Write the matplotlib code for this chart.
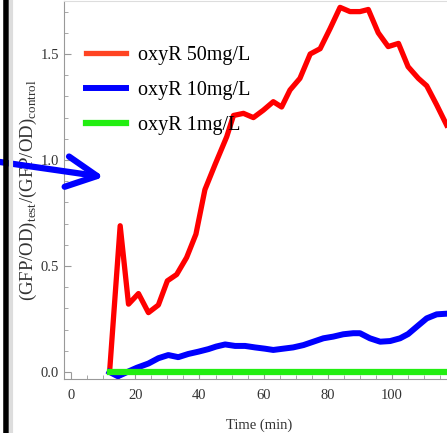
import matplotlib
matplotlib.use('Agg')
from matplotlib import pyplot as plt
from matplotlib.ticker import MultipleLocator
from matplotlib.patches import FancyArrowPatch

# 数据
t_50 = [12, 15.3, 17.9, 21, 24.1, 27.2, 30, 32.9, 36, 38.9, 41.7, 44.9, 48.5,
        50.6, 53.7, 56.8, 59.9, 63, 65.6, 68.2, 71.3, 74.5, 77.6, 80.7, 83.8,
        86.9, 90, 92.6, 95.7, 98.8, 102, 105, 108.2, 110.8, 113.9, 117]
oxyr_50 = [0.0, 0.69, 0.32, 0.37, 0.28, 0.316, 0.43, 0.46, 0.54, 0.65, 0.86, 0.98, 1.11,
           1.21, 1.22, 1.20, 1.235, 1.275, 1.25, 1.33, 1.385, 1.50, 1.525, 1.62, 1.72,
           1.70, 1.70, 1.71, 1.60, 1.535, 1.55, 1.44, 1.385, 1.35, 1.26, 1.165]

t_10 = [12, 14.6, 17.5, 20.5, 24.1, 27.2, 30.3, 33.4, 36.5, 39.7, 42.8, 45.2, 48,
        51.1, 54.2, 57.3, 60.4, 63, 66.1, 69.2, 72.4, 75.5, 78.6, 81.7, 84.8,
        87.9, 90, 93.1, 96.3, 99.4, 102.5, 105, 108.2, 110.8, 113.9, 117]
oxyr_10 = [0.0, -0.02, 0.0, 0.02, 0.04, 0.065, 0.08, 0.07, 0.085, 0.096, 0.108, 0.12, 0.13,
           0.123, 0.123, 0.116, 0.11, 0.104, 0.11, 0.116, 0.127, 0.143, 0.159, 0.167, 0.178,
           0.183, 0.183, 0.159, 0.143, 0.146, 0.159, 0.179, 0.22, 0.253, 0.272, 0.275]

t_1 = [12, 30, 60, 90, 120]
oxyr_1 = [0.0, 0.0, 0.0, 0.0, 0.0]

plt.rcParams['font.family'] = ['Liberation Serif', 'DejaVu Serif']
plt.rcParams['mathtext.fontset'] = 'custom'
plt.rcParams['mathtext.rm'] = 'Liberation Serif'

fig = plt.figure(figsize=(4.47, 4.33), dpi=100)
ax = fig.add_axes([64/447, 54/433, 390/447, 378/433])

ax.plot(t_50, oxyr_50, c='#ff0000', lw=3.8, label='oxyR 50mg/L')
ax.plot(t_10, oxyr_10, c='#0000ff', lw=4.3, label='oxyR 10mg/L')
ax.plot(t_1, oxyr_1, c='#22ee11', lw=4.5, label='oxyR 1mg/L')

ax.set_xlim(-2.2, 119.3)
ax.set_ylim(-0.033, 1.75)
ax.xaxis.set_major_locator(MultipleLocator(20))
ax.xaxis.set_minor_locator(MultipleLocator(5))
ax.yaxis.set_major_locator(MultipleLocator(0.5))
ax.yaxis.set_minor_locator(MultipleLocator(0.1))
ax.yaxis.set_major_formatter(plt.FormatStrFormatter('%.1f'))

for s in ['left', 'bottom']:
    ax.spines[s].set_color('#999999')
    ax.spines[s].set_linewidth(0.8)
ax.spines['top'].set_color('#dddddd')
ax.spines['right'].set_visible(False)
ax.tick_params(which='both', direction='in', color='#999999', labelsize=10.5, labelcolor='#333333')
ax.tick_params(which='major', length=5)
ax.tick_params(which='minor', length=3)
ax.tick_params(axis='x', pad=7)

ax.set_xlabel('Time (min)', fontsize=10.5, color='#333333', labelpad=12)
ax.set_ylabel(r'(GFP/OD)$_{\rm test}$/(GFP/OD)$_{\rm control}$', fontsize=13.5, color='#333333', labelpad=1)

leg = ax.legend(loc='upper left', bbox_to_anchor=(0.01, 0.93), frameon=False, fontsize=14.5,
                handlelength=2.0, labelspacing=0.8, handletextpad=0.6)
leg.legend_handles[0].set_color('#ff4422')

# 左边的黑线和蓝色箭头
fig.add_artist(plt.Line2D([5.5/447, 5.5/447], [0, 1], color='black', lw=4, transform=fig.transFigure))
fig.add_artist(plt.Line2D([10.5/447, 10.5/447], [0, 1], color='#dddddd', lw=3, transform=fig.transFigure))
arrow = FancyArrowPatch((0/447, 1 - 162/433), (104/447, 1 - 177/433), transform=fig.transFigure,
                        arrowstyle='->,head_length=22,head_width=11', color='#0000ff', lw=4.5,
                        mutation_scale=1, shrinkA=0, shrinkB=0, capstyle='round', joinstyle='round')
fig.add_artist(arrow)

plt.savefig('out.png', dpi=100)
